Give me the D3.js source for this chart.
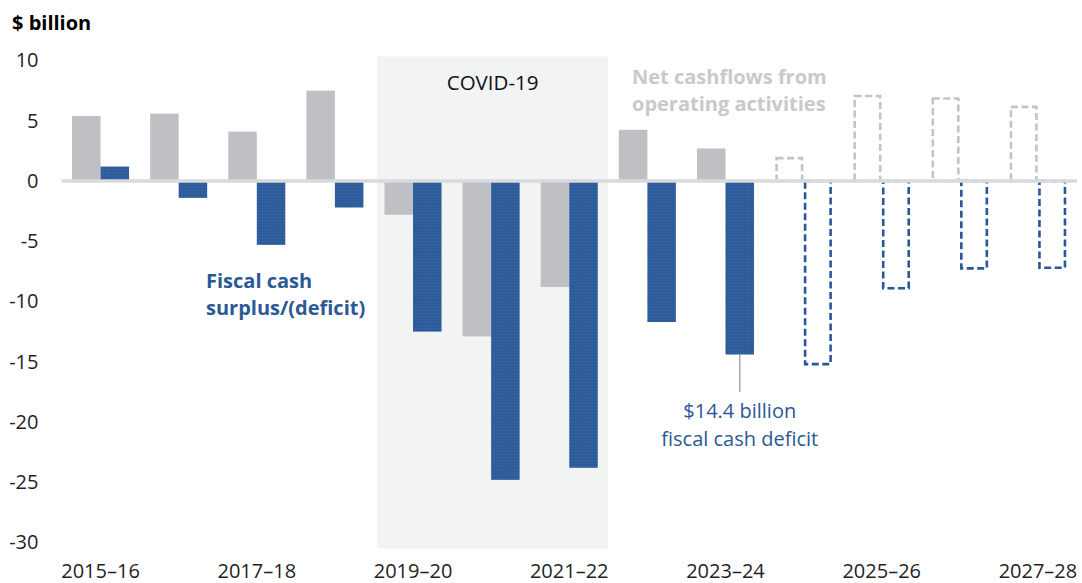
<!DOCTYPE html>
<html>
<head>
<meta charset="utf-8">
<script src="https://cdn.jsdelivr.net/npm/d3@7"></script>
<style>
  body { margin: 0; background: #fff; }
  svg { display: block; font-family: 'Open Sans', 'Noto Sans', sans-serif; }
</style>
</head>
<body>
<div class="canvas"></div>
<script>
// chart data
const years = ['2015–16', '2016–17', '2017–18', '2018–19', '2019–20', '2020–21', '2021–22',
    '2022–23', '2023–24', '2024–25', '2025–26', '2026–27', '2027–28'];
const operatingCashflows = [5.4, 5.6, 4.1, 7.5, -2.8, -12.9, -8.8, 4.25, 2.7, 1.9, 7.05, 6.85, 6.15];
const fiscalCash = [1.2, -1.4, -5.3, -2.2, -12.5, -24.8, -23.8, -11.7, -14.4, -15.2, -8.9, -7.25, -7.2];
const firstForecast = '2024–25';
const covidYears = ['2019–20', '2021–22'];
const yTicks = [10, 5, 0, -5, -10, -15, -20, -25, -30];
const xTickLabels = ['2015–16', '2017–18', '2019–20', '2021–22', '2023–24', '2025–26', '2027–28'];
const series = ['operating', 'fiscal'];

const dimensions = { width: 1082, height: 583 };
const colours = {
    grey: '#bfc0c3',
    greyDash: '#c3c4c7',
    blue: '#2d5c9b',
    blueDash: '#2a579a',
    shade: '#f2f3f3',
    zero: '#d9dadd',
    label: '#1f1f1f'
};

const svg = d3.select('.canvas')
    .append('svg')
    .attr('width', dimensions.width)
    .attr('height', dimensions.height);

// dotted texture of the blue bars
const defs = svg.append('defs');
const pattern = defs.append('pattern')
    .attr('id', 'blueTexture')
    .attr('patternUnits', 'userSpaceOnUse')
    .attr('width', 3)
    .attr('height', 3);
pattern.append('rect').attr('width', 3).attr('height', 3).attr('fill', colours.blue);
pattern.append('rect').attr('x', 1).attr('y', 1).attr('width', 1).attr('height', 1).attr('fill', '#416ca8');

// scales
const x = d3.scaleBand()
    .domain(years)
    .range([61.5, 1077])
    .paddingInner(0.27)
    .paddingOuter(0.135);

const x1 = d3.scaleBand()
    .domain(series)
    .range([0, x.bandwidth()]);

const y = d3.scaleLinear()
    .domain([-30, 10])
    .range([542.5, 60.5]);

const rows = years.map((year, i) => ({
    year,
    forecast: i >= years.indexOf(firstForecast),
    values: [
        { key: 'operating', value: operatingCashflows[i] },
        { key: 'fiscal', value: fiscalCash[i] }
    ]
}));

// covid shading
const covidLeft = x(covidYears[0]) - x.step() * x.paddingOuter() + 3;
const covidRight = x(covidYears[1]) + x.bandwidth() + x.step() * x.paddingOuter();
svg.append('rect')
    .attr('x', covidLeft)
    .attr('y', y(10) - 4)
    .attr('width', covidRight - covidLeft)
    .attr('height', y(-30) - y(10) + 10)
    .attr('fill', colours.shade);

svg.append('text')
    .attr('x', (covidLeft + covidRight) / 2)
    .attr('y', 90)
    .attr('text-anchor', 'middle')
    .attr('font-size', 20.5)
    .attr('fill', '#111')
    .text('COVID-19');

// bars
const groups = svg.append('g')
    .selectAll('g')
    .data(rows)
    .join('g')
    .attr('transform', d => `translate(${x(d.year)}, 0)`);

groups.filter(d => !d.forecast)
    .selectAll('rect')
    .data(d => d.values)
    .join('rect')
    .attr('x', d => x1(d.key))
    .attr('y', d => y(Math.max(0, d.value)))
    .attr('width', x1.bandwidth())
    .attr('height', d => Math.abs(y(d.value) - y(0)))
    .attr('fill', d => d.key === 'fiscal' ? 'url(#blueTexture)' : colours.grey);

groups.filter(d => d.forecast)
    .selectAll('rect')
    .data(d => d.values)
    .join('rect')
    .attr('x', d => x1(d.key) + 1.5)
    .attr('y', d => y(Math.max(0, d.value)))
    .attr('width', x1.bandwidth() - 3)
    .attr('height', d => Math.abs(y(d.value) - y(0)))
    .attr('fill', 'none')
    .attr('stroke', d => d.key === 'fiscal' ? colours.blueDash : colours.greyDash)
    .attr('stroke-width', 2.6)
    .attr('stroke-dasharray', '7,3.5');

// zero line
svg.append('line')
    .attr('x1', x.range()[0])
    .attr('x2', x.range()[1])
    .attr('y1', y(0))
    .attr('y2', y(0))
    .attr('stroke', colours.zero)
    .attr('stroke-width', 3.5);

// axes
const yAxis = svg.append('g')
    .attr('transform', `translate(${x.range()[0]}, 0)`)
    .call(d3.axisLeft(y).tickValues(yTicks).tickSize(0).tickPadding(23).tickFormat(d => String(d)));
yAxis.select('.domain').remove();
yAxis.selectAll('text')
    .attr('font-size', 20)
    .attr('font-family', "'Open Sans', sans-serif")
    .attr('fill', colours.label);

const xAxis = svg.append('g')
    .attr('transform', 'translate(0, 564)')
    .call(d3.axisBottom(x).tickValues(xTickLabels).tickSize(0).tickPadding(0));
xAxis.select('.domain').remove();
xAxis.selectAll('text')
    .attr('font-size', 20)
    .attr('font-family', "'Open Sans', sans-serif")
    .attr('fill', colours.label);

// unit label
svg.append('text')
    .attr('x', 12)
    .attr('y', 30)
    .attr('font-size', 20)
    .attr('font-weight', 700)
    .attr('fill', '#000')
    .text('$ billion');

// series labels
const fiscalLabel = svg.append('text')
    .attr('font-size', 20)
    .attr('font-weight', 700)
    .attr('fill', '#2c5896');
fiscalLabel.append('tspan').attr('x', 206).attr('y', 288).text('Fiscal cash');
fiscalLabel.append('tspan').attr('x', 206).attr('y', 315).text('surplus/(deficit)');

const operatingLabel = svg.append('text')
    .attr('font-size', 20)
    .attr('font-weight', 700)
    .attr('fill', '#c8c9cb');
operatingLabel.append('tspan').attr('x', 632).attr('y', 84).text('Net cashflows from');
operatingLabel.append('tspan').attr('x', 632).attr('y', 111).text('operating activities');

// callout for 2023-24 deficit
const calloutYear = '2023–24';
const calloutX = x(calloutYear) + x1('fiscal') + x1.bandwidth() / 2;
const calloutValue = fiscalCash[years.indexOf(calloutYear)];
svg.append('line')
    .attr('x1', calloutX)
    .attr('x2', calloutX)
    .attr('y1', y(calloutValue))
    .attr('y2', 392)
    .attr('stroke', '#a6a6a6')
    .attr('stroke-width', 1.5);

const callout = svg.append('text')
    .attr('text-anchor', 'middle')
    .attr('font-size', 20)
    .attr('fill', '#2c5896');
callout.append('tspan').attr('x', calloutX).attr('y', 418).text(`$${Math.abs(calloutValue)} billion`);
callout.append('tspan').attr('x', calloutX).attr('y', 446).text('fiscal cash deficit');
</script>
</body>
</html>
